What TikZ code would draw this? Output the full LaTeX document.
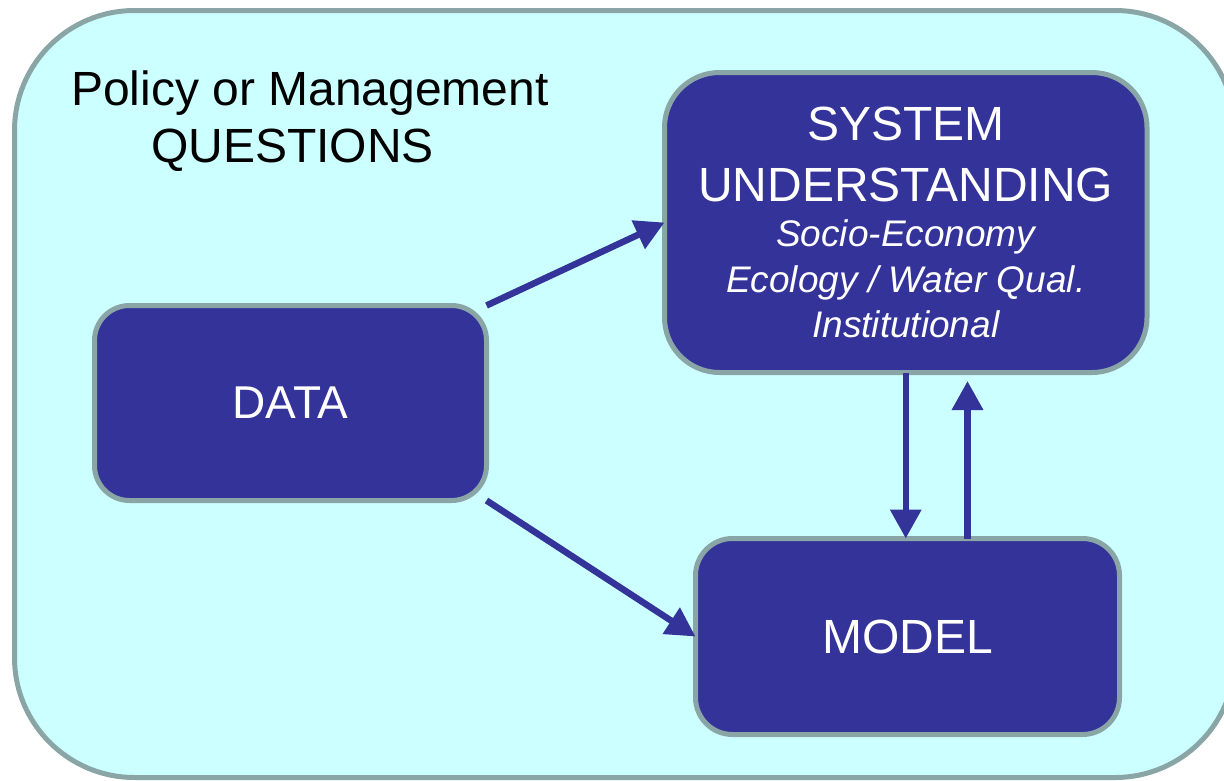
\documentclass[tikz,border=0pt]{standalone}
\usepackage{fontspec}
\setmainfont{Liberation Sans}
\usetikzlibrary{arrows.meta}
\definecolor{panelfill}{HTML}{CCFFFF}
\definecolor{edgegrey}{HTML}{8AA5A5}
\definecolor{boxblue}{HTML}{333399}
\begin{document}
\begin{tikzpicture}[x=1pt,y=-1pt,
  stage/.style={draw=edgegrey, line width=5pt, fill=boxblue, rounded corners=#1,
    text=white, inner sep=0pt, outer sep=0pt},
  flow/.style={draw=boxblue, line width=6.5pt, -{Triangle[length=29pt,width=30pt]}},
  qtext/.style={anchor=base west, inner sep=0pt, font=\fontsize{48}{57}\selectfont}]
\useasboundingbox (0,0) rectangle (1224,780);

% background panel, running off the right edge
\begin{scope}
  \clip (0,0) rectangle (1224,780);
  \draw[draw=edgegrey, fill=panelfill, line width=5pt, rounded corners=120pt]
    (14.5,10.5) rectangle (1235,777.5);
\end{scope}

% heading
\node[qtext] (qline1) at (71,105) {Policy or Management};
\node[qtext] (qline2) at (151,162) {QUESTIONS};

% the three stages
\node[stage=35pt, minimum width=392pt, minimum height=195pt,
      font=\fontsize{46}{55}\selectfont] (data) at (290.5,403) {DATA};
\node[stage=55pt, minimum width=482.5pt, minimum height=300pt,
      text width=470pt, align=center] (sys) at (905.75,222.5)
  {\vspace*{4pt}\fontsize{48}{57}\selectfont SYSTEM\par UNDERSTANDING\par
   \fontsize{37}{45.5}\selectfont\itshape\spaceskip=0.278em\relax
   Socio-Economy\par
   Ecology / Water Qual.\par Institutional\par};
\node[stage=37pt, minimum width=424pt, minimum height=196pt,
      font=\fontsize{48}{57}\selectfont] (model) at (907.5,636.5) {MODEL};

% connectors
\draw[flow] (data.north east) -- (sys.west);
\draw[flow] (data.south east) -- (model.west);
\draw[flow] (sys.south) -- (sys.south |- model.north);
\coordinate (upfoot) at ([xshift=60pt]model.north);
\path (upfoot |- sys.south) coordinate (upbase);
\coordinate (uptip) at ([yshift=-8.5pt]upbase);
\draw[flow] (upfoot) -- (uptip);
\end{tikzpicture}
\end{document}
